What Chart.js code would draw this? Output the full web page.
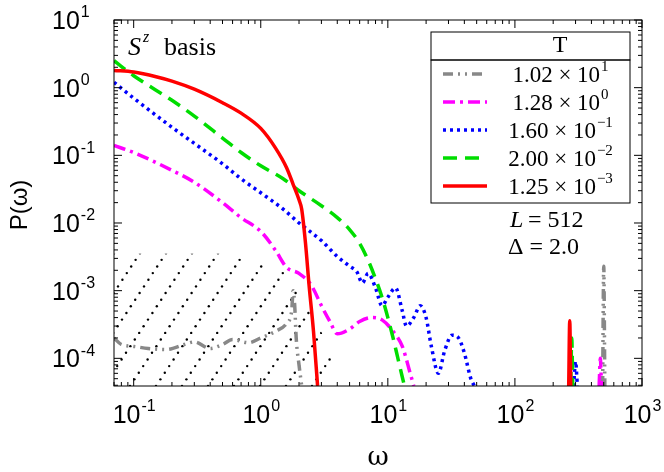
<!DOCTYPE html>
<html><head><meta charset="utf-8">
<script src="https://cdn.jsdelivr.net/npm/chart.js@4"></script>
<style>html,body{margin:0;background:#fff}#wrap{width:664px;height:472px}</style>
</head><body><div id="wrap"><canvas id="c" width="664" height="472"></canvas></div>
<script>
// series values: [omega, P]; null marks a break in the curve
const grayPts = [[0.07,2e-4],[0.08,1.6e-4],[0.1,1.5e-4],[0.13,1.4e-4],[0.18,1.35e-4],[0.25,1.6e-4],[0.3,1.75e-4],[0.4,1.4e-4],[0.5,1.6e-4],[0.6,1.9e-4],[0.8,1.7e-4],[1,2e-4],[1.3,2.5e-4],[1.6,3.3e-4],[1.75,5e-4],[1.8,1e-3],[1.85,6e-4],[1.9,2e-4],[2,8e-5],[2.1,3.9e-5],
  [100,null],[490,3.9e-5],[500,2.3e-3],[510,3.9e-5]];
const magentaPts = [[0.07,0.14],[0.1,0.11],[0.2,0.06],[0.3,0.04],[0.5,0.02],[0.7,0.012],[1,0.0075],[1.3,0.004],[1.6,0.0022],[2,0.0018],[2.5,0.0012],[3,0.0006],[3.5,0.00035],[4,0.00023],[5,0.00027],[6,0.00035],[7.5,0.0004],[9,0.00037],[11,0.00025],[13,0.00015],[15,6e-5],[16,3.9e-5],
  [100,null],[460,3.9e-5],[470,1e-4],[480,3.9e-5]];
const bluePts = [[0.07,1.2],[0.1,0.7],[0.2,0.26],[0.3,0.15],[0.5,0.075],[0.7,0.045],[1,0.028],[1.5,0.016],[2,0.01],[3,0.0055],[4,0.0032],[5,0.0023],[5.7,0.0019],[6.3,0.0013],[7,0.0018],[8,0.0011],[9,0.0006],[10,0.0008],[11.5,0.0011],[13,0.0005],[14,0.0003],[16,0.0004],[18,0.0006],[20,0.0004],[22,0.00015],[25,6e-5],[28,1.3e-4],[32,2.2e-4],[36,2e-4],[40,1.2e-4],[45,5e-5],[48,3.9e-5],
  [100,null],[290,3.9e-5],[300,9e-5],[310,3.9e-5]];
const greenPts = [[0.07,2.5],[0.1,1.5],[0.2,0.65],[0.3,0.38],[0.5,0.18],[0.7,0.11],[1,0.07],[1.5,0.045],[2,0.03],[3,0.018],[4,0.012],[5,0.008],[6,0.005],[7,0.0028],[8,0.0015],[9,0.0008],[10,0.0004],[11,0.0002],[12,0.0001],[13.5,3.9e-5],
  [100,null],[275,3.9e-5],[280,2e-4],[285,3.9e-5]];
const redPts = [[0.07,1.8],[0.1,1.7],[0.15,1.45],[0.2,1.25],[0.3,0.95],[0.5,0.6],[0.7,0.42],[1,0.25],[1.3,0.13],[1.6,0.065],[1.8,0.037],[2.0,0.022],[2.1,0.016],[2.25,0.005],[2.4,0.0012],[2.6,2.5e-4],[2.8,3.9e-5],
  [100,null],[265,3.9e-5],[270,3.6e-4],[275,3.9e-5]];
const seriesLabels = ['1.02 × 10', '1.28 × 10', '1.60 × 10', '2.00 × 10', '1.25 × 10'];
const seriesExps = ['1', '0', '−1', '−2', '−3'];
const seriesColors = ['#888888', '#ff00ff', '#0000ff', '#00dd00', '#ff0000'];
const seriesDashes = [[10,5,2,5,2,5], [12,5,3,5], [3,4], [14,8], []];
const xTickExps = [-1, 0, 1, 2, 3];
const yTickExps = [1, 0, -1, -2, -3, -4];
// hatched region outline (data coords)
const hatchOutline = [[0.07,3.5e-3],[0.5,3.5e-3],[1.5,2e-3],[2.5,5e-4],[4,8e-5],[4,3.9e-5],[0.07,3.9e-5]];

const allPts = [grayPts, magentaPts, bluePts, greenPts, redPts];

function logTicks(scale, ctx, horizontal, min, max) {
  const sMin = Math.floor(Math.log10(min)), sMax = Math.ceil(Math.log10(max));
  const a = scale.chart.chartArea;
  for (let e = sMin; e <= sMax; e++) {
    for (let m = 1; m <= 9; m++) {
      const v = m * Math.pow(10, e);
      if (v < min || v > max) continue;
      const len = m === 1 ? 8 : 4;
      const p = scale.getPixelForValue(v);
      ctx.beginPath();
      if (horizontal) {
        ctx.moveTo(p, a.bottom); ctx.lineTo(p, a.bottom - len);
        ctx.moveTo(p, a.top); ctx.lineTo(p, a.top + len);
      } else {
        ctx.moveTo(a.left, p); ctx.lineTo(a.left + len, p);
        ctx.moveTo(a.right, p); ctx.lineTo(a.right - len, p);
      }
      ctx.stroke();
    }
  }
}

function supText(ctx, base, exp, x, y, font, supFont, align) {
  ctx.font = font;
  const w1 = ctx.measureText(base).width;
  ctx.font = supFont;
  const w2 = ctx.measureText(exp).width;
  let x0 = align === 'center' ? x - (w1 + w2) / 2 : x;
  ctx.font = font; ctx.textBaseline = 'middle'; ctx.textAlign = 'left';
  ctx.fillText(base, x0, y);
  ctx.font = supFont;
  ctx.fillText(exp, x0 + w1 + 1, y - 9);
}

const decor = {
  id: 'decor',
  beforeDatasetsDraw(chart) {
    const ctx = chart.ctx, xs = chart.scales.x, ys = chart.scales.y, a = chart.chartArea;
    ctx.save();
    ctx.beginPath();
    hatchOutline.forEach((p, i) => {
      const px = xs.getPixelForValue(p[0]), py = ys.getPixelForValue(p[1]);
      i ? ctx.lineTo(px, py) : ctx.moveTo(px, py);
    });
    ctx.closePath(); ctx.clip();
    ctx.fillStyle = '#000';
    for (let k = -400; k < 400; k += 26) {
      for (let t = 0; t < 500; t += 8) {
        const px = a.left + k + t * 0.55, py = a.bottom - t * 0.83;
        ctx.beginPath(); ctx.arc(px, py, 1.2, 0, 2 * Math.PI); ctx.fill();
      }
    }
    ctx.restore();
  },
  afterDraw(chart) {
    const ctx = chart.ctx, xs = chart.scales.x, ys = chart.scales.y, a = chart.chartArea;
    ctx.save();
    ctx.strokeStyle = '#000'; ctx.lineWidth = 1;
    ctx.strokeRect(a.left, a.top, a.right - a.left, a.bottom - a.top);
    logTicks(xs, ctx, true, xs.min, xs.max);
    logTicks(ys, ctx, false, ys.min, ys.max);
    ctx.fillStyle = '#000';
    const tf = '25px "Liberation Sans", Arial', sf = '16px "Liberation Sans", Arial';
    xTickExps.forEach(e => supText(ctx, '10', e < 0 ? '-' + (-e) : String(e), xs.getPixelForValue(Math.pow(10, e)), a.bottom + 30, tf, sf, 'center'));
    yTickExps.forEach(e => {
      const py = ys.getPixelForValue(Math.pow(10, e));
      supText(ctx, '10', e < 0 ? '-' + (-e) : String(e), 52, py + 2, tf, sf, 'left');
    });
    // axis titles
    ctx.font = '26px "DejaVu Serif", serif'; ctx.textAlign = 'center'; ctx.textBaseline = 'middle';
    ctx.fillText('ω', (a.left + a.right) / 2, 458);
    ctx.save(); ctx.translate(20, 205); ctx.rotate(-Math.PI / 2);
    ctx.font = '24px "Liberation Sans", Arial'; ctx.fillText('P(ω)', 0, 0); ctx.restore();
    // annotations
    ctx.textAlign = 'left';
    ctx.font = 'italic 26px "Liberation Serif", serif'; ctx.fillText('S', 128, 48);
    ctx.font = 'italic 16px "Liberation Serif", serif'; ctx.fillText('z', 143, 38);
    ctx.font = '26px "Liberation Serif", serif'; ctx.fillText('basis', 164, 48);
    ctx.font = 'italic 24px "Liberation Serif", serif'; ctx.fillText('L', 510, 221);
    ctx.font = '24px "Liberation Serif", serif'; ctx.fillText('= 512', 528, 221);
    ctx.fillText('Δ = 2.0', 508, 248);
    // legend
    ctx.fillStyle = '#fff';
    ctx.fillRect(431, 32, 199, 171);
    ctx.strokeRect(431, 32, 199, 28);
    ctx.strokeRect(431, 60, 199, 143);
    ctx.fillStyle = '#000'; ctx.textAlign = 'center';
    ctx.fillText('T', 560, 46);
    seriesLabels.forEach((lab, i) => {
      const y = 74 + i * 28;
      ctx.strokeStyle = seriesColors[i]; ctx.lineWidth = 3.5; ctx.setLineDash(seriesDashes[i]);
      ctx.beginPath(); ctx.moveTo(443, y); ctx.lineTo(487, y); ctx.stroke();
      ctx.setLineDash([]);
      ctx.fillStyle = '#000';
      supText(ctx, lab, seriesExps[i], 560, y + 2, '23px "Liberation Serif", serif', '15px "Liberation Serif", serif', 'center');
    });
    ctx.restore();
  }
};

new Chart(document.getElementById('c'), {
  type: 'line',
  data: {
    datasets: allPts.map((pts, i) => ({
      label: seriesLabels[i],
      data: pts.map(p => ({ x: p[0], y: p[1] })),
      borderColor: seriesColors[i],
      borderDash: seriesDashes[i],
      borderWidth: 3.5,
      pointRadius: 0,
      cubicInterpolationMode: 'monotone',
      spanGaps: false,
      fill: false
    })).reverse()
  },
  options: {
    responsive: false,
    animation: false,
    layout: { padding: { left: 114, right: 22, top: 20, bottom: 86 } },
    plugins: { legend: { display: false }, tooltip: { enabled: false } },
    scales: {
      x: { type: 'logarithmic', min: 0.07, max: 1000, grid: { display: false, drawTicks: false }, border: { display: false }, ticks: { display: false } },
      y: { type: 'logarithmic', min: 3.9e-5, max: 10, grid: { display: false, drawTicks: false }, border: { display: false }, ticks: { display: false } }
    }
  },
  plugins: [decor]
});
</script></body></html>
